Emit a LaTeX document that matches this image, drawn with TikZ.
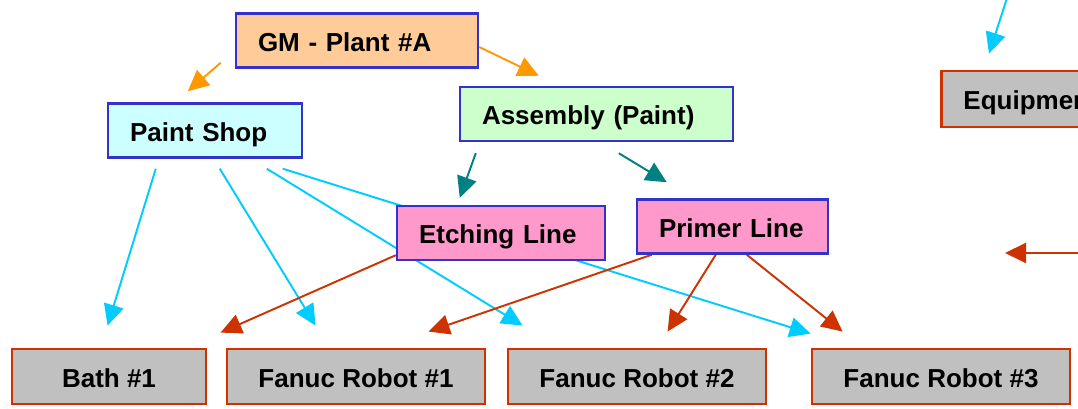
\documentclass[tikz,border=0pt]{standalone}
\usepackage{fontspec}
\setmainfont{Liberation Sans}
\usepackage{tikz}
\usetikzlibrary{arrows.meta, backgrounds}

\definecolor{peach}{HTML}{FFCC99}
\definecolor{paleCyan}{HTML}{CCFFFF}
\definecolor{paleGreen}{HTML}{CCFFCC}
\definecolor{pinkish}{HTML}{FF99CC}
\definecolor{boxBlue}{HTML}{3333CC}
\definecolor{brick}{HTML}{CC3300}
\definecolor{silver}{HTML}{C0C0C0}
\definecolor{sky}{HTML}{00CCFF}
\definecolor{amber}{HTML}{FF9900}
\definecolor{tealish}{HTML}{008080}

\begin{document}
\begin{tikzpicture}[->, >={Triangle[length=0.42cm, width=0.40cm]},
    font=\fontsize{14.8}{17}\selectfont\bfseries,
    link/.style={line width=1.1pt},
    unit/.style={draw=boxBlue, line width=1.4pt, minimum height=1.08cm, inner xsep=0.44cm, align=left, text height=0.45cm, text depth=0.02cm},
    machine/.style={draw=brick, fill=silver, line width=1.6pt, minimum height=1.1cm, minimum width=5.16cm, text height=0.45cm, text depth=0.02cm}]
    	\useasboundingbox (0,0) rectangle (21.56,8.18);
    	\clip (0,0) rectangle (21.56,8.18);
    	\node[unit, fill=peach, text width=3.96cm] (plant) at (7.14,7.37) {GM - Plant \#A};
    	\node[unit, fill=paleCyan, text width=3.0cm] (paint) at (4.10,5.57) {Paint Shop};
    	\node[unit, fill=paleGreen, text width=4.58cm] (assembly) at (11.93,5.90) {Assembly (Paint)};
    	\node[unit, fill=pinkish, text width=3.28cm] (etching) at (10.02,3.52) {Etching Line};
    	\node[unit, fill=pinkish, text width=2.94cm] (primer) at (14.65,3.65) {Primer Line};
    	\node[machine, anchor=west, minimum width=0pt, inner xsep=0.44cm, minimum height=1.12cm, align=left, text width=4cm] (equip) at (18.8,6.20) {Equipment};
    	\node[machine, minimum width=3.88cm] (bath) at (2.18,0.65) {Bath \#1};
    	\node[machine] (robot1) at (7.12,0.65) {Fanuc Robot \#1};
    	\node[machine] (robot2) at (12.74,0.65) {Fanuc Robot \#2};
    	\node[machine] (robot3) at (18.82,0.65) {Fanuc Robot \#3};
    	\coordinate (feedTop) at (20.20,8.40);
    	\coordinate (feedRight) at (21.80,3.12);
    	\coordinate (feedTip) at (20.10,3.12);

    	\begin{pgfonlayer}{background}
    	% plant level
    	\draw[link, amber] ([xshift=-0.28cm, yshift=0.12cm]plant.south west) -- ([xshift=1.62cm, yshift=0.22cm]paint.north west);
    	\draw[link, amber] ([yshift=-0.13cm]plant.east) -- ([xshift=1.6cm, yshift=0.2cm]assembly.north west);
    	\draw[link, tealish] ([xshift=0.34cm, yshift=-0.22cm]assembly.south west) -- ([xshift=1.28cm, yshift=0.14cm]etching.north west);
    	\draw[link, tealish] ([xshift=3.2cm, yshift=-0.22cm]assembly.south west) -- ([xshift=0.62cm, yshift=0.32cm]primer.north west);
    	% paint shop
    	\draw[link, sky] ([xshift=0.98cm, yshift=-0.2cm]paint.south west) -- ([xshift=1.94cm, yshift=0.44cm]bath.north west);
    	\draw[link, sky] ([xshift=2.26cm, yshift=-0.2cm]paint.south west) -- ([xshift=1.8cm, yshift=0.44cm]robot1.north west);
    	\draw[link, sky] ([xshift=3.2cm, yshift=-0.2cm]paint.south west) -- ([xshift=0.32cm, yshift=0.44cm]robot2.north west);
    	\draw[link, sky] ([xshift=3.52cm, yshift=-0.2cm]paint.south west) -- ([yshift=0.28cm]robot3.north west);
    	\draw[link, sky] (feedTop) -- ([xshift=0.98cm, yshift=0.32cm]equip.north west);
    	% lines
    	\draw[link, brick] ([yshift=0.12cm]etching.south west) -- ([xshift=-0.1cm, yshift=0.3cm]robot1.north west);
    	\draw[link, brick] ([xshift=0.32cm]primer.south west) -- ([xshift=4.06cm, yshift=0.32cm]robot1.north west);
    	\draw[link, brick] ([xshift=1.6cm]primer.south west) -- ([xshift=3.22cm, yshift=0.32cm]robot2.north west);
    	\draw[link, brick] ([xshift=2.22cm]primer.south west) -- ([xshift=0.64cm, yshift=0.32cm]robot3.north west);
    	\draw[link, brick] (feedRight) -- (feedTip);
    	\end{pgfonlayer}
    \end{tikzpicture}
\end{document}
